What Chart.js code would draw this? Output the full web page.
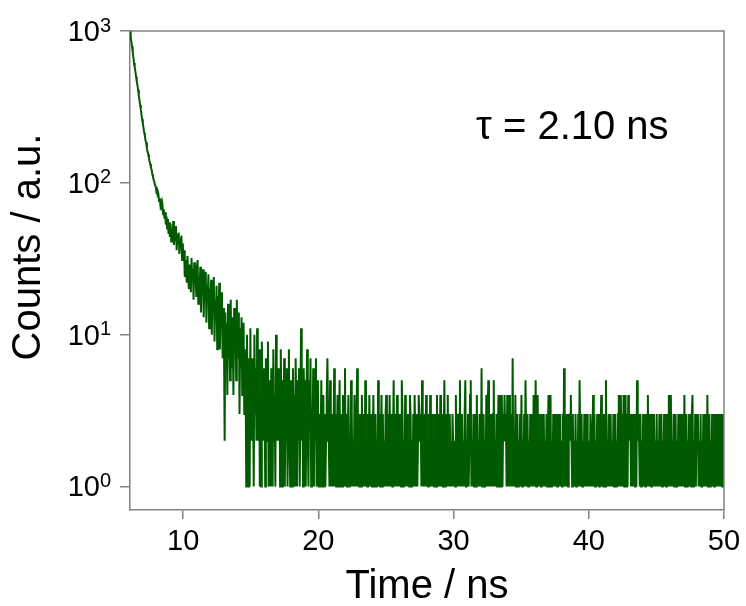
<!DOCTYPE html>
<html>
<head>
<meta charset="utf-8">
<title>Fluorescence decay</title>
<script src="https://cdn.jsdelivr.net/npm/chart.js@4.4.1/dist/chart.umd.min.js"></script>
<style>
  html, body { margin: 0; padding: 0; background: #ffffff; }
  #decayChart { display: block; }
</style>
</head>
<body>
<canvas id="decayChart" width="746" height="606"></canvas>
<script>
// Time axis: first channel and channel width (ns)
const startTime = 6.07;
const channelWidth = 0.05;

// Counts, one value per channel (rows of 0.5 ns)
const headCounts = [1000, 920, 850, 790, 725, 670, 615, 575, 540, 500,
  465, 440, 410, 375, 350, 325, 305, 280, 262, 245,
  230, 214, 204, 190, 184, 168, 160, 154, 146, 138,
  133, 126, 122, 114, 110, 104, 102, 96, 95, 88,
  90, 83, 84, 76, 79, 71, 74, 66, 71, 62,
  67, 58, 64, 53, 60, 50, 58, 46, 55, 44,
  54, 41, 50, 45, 56, 39, 48, 42, 52, 36,
  46, 40, 47, 34, 43, 37, 45, 31, 40, 33];

const midCounts = [36, 24, 31, 27, 22, 33, 26, 20, 29, 25,
  19, 32, 23, 27, 17, 30, 22, 26, 18, 28,
  31, 16, 24, 20, 28, 14, 25, 19, 27, 13,
  22, 17, 26, 12, 21, 18, 25, 11, 20, 15,
  23, 10, 19, 14, 24, 9, 17, 13, 21, 8,
  18, 12, 22, 8, 16, 11, 19, 7, 15, 9,
  2, 14, 6, 12, 4, 16, 7, 11, 5, 17,
  6, 13, 9, 4, 15, 8, 12, 5, 17, 7,
  10, 14, 3, 11, 6, 13, 4, 9, 12, 3,
  8, 5, 1, 10, 4, 1, 7, 1, 11, 3,
  2, 7, 4, 1, 10, 3, 6, 2, 11, 5,
  2, 8, 1, 4, 1, 9, 3, 6, 2, 5,
  1, 7, 3, 2, 9, 1, 5, 2, 1, 6,
  3, 1, 8, 2, 4, 1, 10, 2, 6, 3,
  2, 6, 1, 8, 3, 1, 5, 2, 7, 1,
  4, 2, 6, 1, 3, 8, 2, 1, 5, 3,
  1, 6, 2, 4, 1, 7, 3, 1, 5, 2,
  6, 1, 3, 11, 2, 4, 1, 6, 2, 5,
  1, 4, 8, 2, 1, 5, 3, 7, 1, 3,
  2, 6, 1, 4, 2, 7, 1, 3, 5, 1];

const tail20Counts = [1, 3, 2, 5, 1, 2, 4, 1, 3, 1,
  2, 4, 7, 3, 2, 1, 5, 2, 1, 3,
  1, 2, 6, 1, 3, 1, 2, 4, 1, 2,
  5, 1, 3, 2, 1, 4, 1, 2, 6, 1,
  3, 1, 2, 4, 1, 2, 1, 5, 3, 1,
  2, 1, 4, 2, 1, 3, 6, 1, 2, 1,
  3, 2, 1, 4, 1, 2, 3, 1, 5, 1,
  2, 1, 3, 1, 4, 2, 1, 3, 1, 2,
  4, 1, 2, 3, 1, 2, 1, 5, 1, 3,
  1, 2, 4, 1, 3, 1, 2, 1, 3, 4,
  1, 3, 2, 1, 4, 2, 1, 3, 1, 2,
  5, 1, 3, 1, 2, 4, 1, 2, 3, 1,
  2, 1, 5, 3, 1, 2, 1, 4, 2, 1,
  3, 1, 2, 1, 4, 3, 1, 2, 1, 3,
  1, 4, 2, 1, 3, 1, 2, 4, 3, 2,
  3, 1, 5, 2, 1, 3, 1, 2, 4, 1,
  2, 1, 3, 1, 4, 2, 1, 3, 1, 2,
  1, 3, 2, 1, 4, 1, 3, 2, 1, 4,
  1, 2, 3, 1, 2, 5, 1, 3, 1, 2,
  4, 1, 2, 3, 1, 2, 1, 3, 2, 1];

const tail30Counts = [2, 1, 4, 1, 3, 2, 1, 3, 5, 1,
  2, 3, 1, 2, 1, 3, 5, 1, 2, 1,
  3, 1, 2, 4, 5, 1, 2, 1, 3, 1,
  2, 3, 1, 4, 1, 2, 1, 3, 2, 1,
  6, 1, 2, 3, 1, 2, 1, 4, 1, 3,
  5, 1, 2, 1, 3, 2, 1, 3, 5, 1,
  2, 1, 3, 1, 2, 4, 1, 3, 4, 1,
  4, 1, 3, 2, 4, 2, 3, 1, 4, 2,
  1, 4, 2, 1, 3, 1, 7, 1, 2, 1,
  4, 1, 2, 3, 1, 2, 1, 3, 1, 4,
  1, 2, 1, 3, 1, 5, 2, 1, 3, 1,
  2, 1, 3, 1, 2, 3, 1, 4, 2, 1,
  5, 1, 2, 4, 1, 3, 1, 2, 1, 3,
  1, 2, 3, 1, 2, 1, 3, 1, 2, 4,
  1, 3, 4, 1, 2, 1, 3, 2, 1, 3,
  1, 2, 1, 3, 1, 2, 3, 1, 2, 1,
  3, 1, 6, 2, 1, 3, 1, 2, 1, 3,
  2, 3, 4, 2, 1, 3, 1, 2, 1, 3,
  1, 2, 1, 3, 1, 5, 2, 1, 3, 1,
  2, 1, 3, 1, 2, 1, 3, 2, 1, 2];

const tail40Counts = [1, 3, 2, 1, 2, 4, 1, 3, 1, 2,
  1, 3, 1, 2, 1, 3, 2, 4, 1, 3,
  1, 2, 3, 1, 5, 1, 2, 1, 3, 1,
  2, 3, 1, 2, 1, 3, 1, 2, 3, 1,
  2, 1, 3, 4, 1, 2, 4, 1, 3, 1,
  4, 1, 2, 4, 1, 3, 1, 4, 3, 2,
  3, 1, 2, 1, 3, 1, 2, 1, 3, 1,
  5, 2, 3, 2, 1, 3, 1, 2, 1, 3,
  1, 2, 1, 3, 1, 2, 4, 1, 3, 1,
  2, 1, 3, 1, 2, 3, 1, 2, 1, 3,
  1, 2, 1, 3, 2, 1, 3, 1, 2, 1,
  3, 1, 2, 1, 3, 1, 2, 4, 1, 3,
  4, 1, 2, 1, 3, 1, 2, 3, 1, 2,
  1, 3, 1, 2, 1, 3, 2, 1, 3, 1,
  4, 1, 2, 3, 1, 2, 1, 3, 1, 2,
  1, 3, 4, 1, 2, 1, 3, 1, 3, 2,
  3, 1, 2, 1, 3, 1, 2, 1, 3, 1,
  2, 1, 3, 1, 4, 1, 2, 3, 1, 2,
  1, 3, 1, 2, 1, 3, 1, 3, 2, 1,
  3, 1, 3, 2, 1, 3, 1, 3, 1, 3,
  2];

// Axis ticks and labels
const xTickValues = [10, 20, 30, 40, 50];
const xTickLabels = ['10', '20', '30', '40', '50'];
const yTickValues = [1, 10, 100, 1000];
const yTickPowers = ['0', '1', '2', '3'];

const lineColor = '#005a00';
const axisColor = '#828282';
const fontFamily = '"Liberation Sans", Arial, sans-serif';

// Build the {x, y} points from the channels
const allCounts = headCounts.concat(midCounts, tail20Counts, tail30Counts, tail40Counts);
const decayPoints = allCounts.map((c, i) => ({ x: startTime + i * channelWidth, y: c }));

// Frame, tick labels, axis titles and lifetime note
const labelPlugin = {
  id: 'decayLabels',
  afterDraw(chart) {
    const { ctx, chartArea: area, scales } = chart;
    ctx.save();

    // top and right sides of the frame
    ctx.strokeStyle = axisColor;
    ctx.lineWidth = 1.5;
    ctx.beginPath();
    ctx.moveTo(area.left, area.top);
    ctx.lineTo(area.right, area.top);
    ctx.lineTo(area.right, area.bottom);
    ctx.stroke();

    ctx.fillStyle = '#000000';

    // y tick labels as powers of ten
    yTickValues.forEach((v, i) => {
      const py = scales.y.getPixelForValue(v);
      ctx.font = '29px ' + fontFamily;
      ctx.textAlign = 'right';
      ctx.textBaseline = 'middle';
      ctx.fillText('10', 100, py + 2);
      ctx.font = '20px ' + fontFamily;
      ctx.textAlign = 'left';
      ctx.fillText(yTickPowers[i], 100, py - 5);
    });

    // x tick labels
    ctx.font = '29px ' + fontFamily;
    ctx.textAlign = 'center';
    ctx.textBaseline = 'middle';
    xTickValues.forEach((v, i) => {
      ctx.fillText(xTickLabels[i], scales.x.getPixelForValue(v), 542);
    });

    // axis titles
    ctx.font = '40px ' + fontFamily;
    ctx.textBaseline = 'alphabetic';
    ctx.fillText('Time / ns', (area.left + area.right) / 2, 598);

    ctx.save();
    ctx.translate(29, 247);
    ctx.rotate(-Math.PI / 2);
    ctx.textBaseline = 'middle';
    ctx.fillText('Counts / a.u.', 0, 0);
    ctx.restore();

    // lifetime note
    ctx.font = '40px ' + fontFamily;
    ctx.textAlign = 'left';
    ctx.textBaseline = 'middle';
    ctx.fillText('τ = 2.10 ns', 476, 128);

    ctx.restore();
  },
};

new Chart(document.getElementById('decayChart'), {
  type: 'line',
  data: {
    datasets: [{
      data: decayPoints,
      borderColor: lineColor,
      borderWidth: 2,
      pointRadius: 0,
      tension: 0,
      fill: false,
    }],
  },
  options: {
    responsive: false,
    animation: false,
    layout: { padding: { top: 31, right: 22, left: 0, bottom: 0 } },
    plugins: {
      legend: { display: false },
      tooltip: { enabled: false },
    },
    scales: {
      x: {
        type: 'linear',
        min: startTime,
        max: 50,
        afterBuildTicks: scale => { scale.ticks = xTickValues.map(v => ({ value: v })); },
        afterFit: scale => { scale.height = 96; },
        ticks: { callback: () => '', color: 'rgba(0,0,0,0)' },
        grid: { drawOnChartArea: false, drawTicks: true, tickLength: 9, color: axisColor, lineWidth: 1.5 },
        border: { color: axisColor, width: 1.5 },
      },
      y: {
        type: 'logarithmic',
        min: 0.706,
        max: 1000,
        afterBuildTicks: scale => { scale.ticks = yTickValues.map(v => ({ value: v })); },
        afterFit: scale => { scale.width = 130; },
        ticks: { callback: () => '', color: 'rgba(0,0,0,0)' },
        grid: { drawOnChartArea: false, drawTicks: true, tickLength: 10, color: axisColor, lineWidth: 1.5 },
        border: { color: axisColor, width: 1.5 },
      },
    },
  },
  plugins: [labelPlugin],
});
</script>
</body>
</html>
